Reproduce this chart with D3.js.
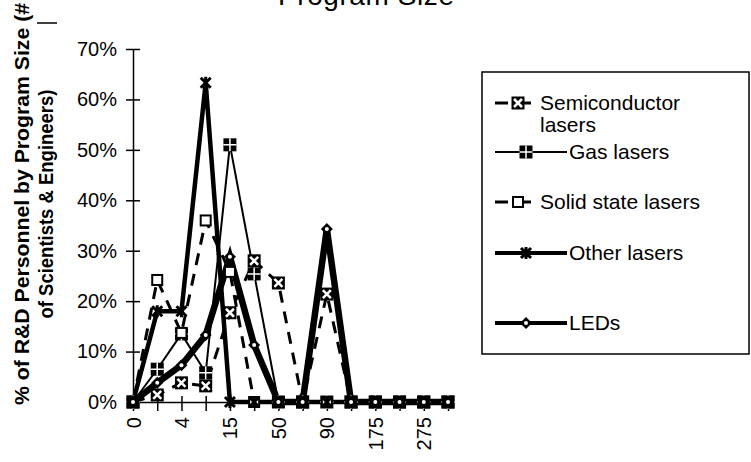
<!DOCTYPE html>
<html>
<head>
<meta charset="utf-8">
<script src="https://cdn.jsdelivr.net/npm/d3@7"></script>
<style>
  body { margin: 0; background: #fff; }
  svg text { font-family: "Liberation Sans", Arial, sans-serif; fill: #000; }
</style>
</head>
<body>
<div id="chart"></div>
<script>
(function() {
  "use strict";

  // Program size bins (only every other one is labelled on the axis)
  var categories = ['0', '2', '4', '10', '15', '25', '50', '75', '90', '125', '175', '225', '275', '300'];

  // Share of R&D personnel, in percent
  var semiconductor = [0, 1.4, 3.8, 3.2, 17.7, 28, 23.6, 0, 21.4, 0, 0, 0, 0, 0];
  var gas           = [0, 6.5, 13.5, 5.8, 51, 25.4, 0, 0, 0, 0, 0, 0, 0, 0];
  var solidState    = [0, 24.2, 13.7, 36, 25.8, 0, 0, 0, 0, 0, 0, 0, 0, 0];
  var other         = [0, 18, 18, 63.3, 0, 0, 0, 0, 0, 0, 0, 0, 0, 0];
  var leds          = [0, 3.8, 7.3, 13.3, 28.8, 11.3, 0, 0, 34.3, 0, 0, 0, 0, 0];

  var seriesNames = ['Semiconductor lasers', 'Gas lasers', 'Solid state lasers', 'Other lasers', 'LEDs'];
  var yTicks = [0, 10, 20, 30, 40, 50, 60, 70];

  var series = [
    { name: seriesNames[0], values: semiconductor, width: 3, dash: '12,9', marker: 'xsquare' },
    { name: seriesNames[1], values: gas, width: 2, dash: null, marker: 'plussquare' },
    { name: seriesNames[2], values: solidState, width: 3, dash: '12,9', marker: 'square' },
    { name: seriesNames[3], values: other, width: 4.5, dash: null, marker: 'star' },
    { name: seriesNames[4], values: leds, width: 6.5, dash: null, marker: 'diamond' }
  ];

  var svg = d3.select('#chart')
      .append('svg')
      .attr('width', 751)
      .attr('height', 462);

  var x = d3.scalePoint().domain(categories).range([133, 448]);
  var y = d3.scaleLinear().domain([0, 70]).range([402, 49]);

  // Title, mostly clipped off the top of the page
  svg.append('text')
      .attr('x', 366)
      .attr('y', 5)
      .attr('text-anchor', 'middle')
      .attr('font-size', 28)
      .attr('textLength', 176)
      .text('Program Size');

  // Axis title, two rotated lines
  var titleLines = ['% of R&D Personnel by Program Size (#', 'of Scientists & Engineers)'];
  svg.selectAll('.ytitle')
      .data(titleLines)
      .enter()
      .append('text')
      .attr('class', 'ytitle')
      .attr('transform', function(d, i) { return 'translate(' + (29 + i * 24) + ',204) rotate(-90)'; })
      .attr('text-anchor', 'middle')
      .attr('font-size', 20.5)
      .attr('font-weight', 'bold')
      .attr('textLength', function(d, i) { return i === 0 ? 402 : 229; })
      .attr('lengthAdjust', 'spacingAndGlyphs')
      .text(function(d) { return d; });

  svg.append('line')
      .attr('x1', 37).attr('x2', 57)
      .attr('y1', 23).attr('y2', 23)
      .attr('stroke', '#000')
      .attr('stroke-width', 1.5);

  // Y axis with cross ticks
  var yAxis = d3.axisLeft(y)
      .tickValues(yTicks)
      .tickSizeInner(7)
      .tickSizeOuter(0)
      .tickPadding(9)
      .tickFormat(function(d) { return d + '%'; });

  var gy = svg.append('g')
      .attr('transform', 'translate(' + x(categories[0]) + ',0)')
      .call(yAxis);
  gy.select('.domain').attr('stroke', '#000').attr('stroke-width', 1.5);
  gy.selectAll('.tick line').attr('x2', -7).attr('x1', 7).attr('stroke-width', 1.5);
  gy.selectAll('.tick text')
      .attr('font-size', 20)
      .attr('font-family', '"Liberation Sans", Arial, sans-serif');

  // X axis
  var xAxis = d3.axisBottom(x)
      .tickSizeInner(8)
      .tickSizeOuter(0)
      .tickFormat(function(d, i) { return i % 2 === 0 ? d : ''; });

  var gx = svg.append('g')
      .attr('transform', 'translate(0,' + y(0) + ')')
      .call(xAxis);
  gx.select('.domain').attr('stroke', '#000').attr('stroke-width', 1.5);
  gx.selectAll('.tick line').attr('y1', -6).attr('y2', 9).attr('stroke-width', 1.5);
  gx.selectAll('.tick text')
      .attr('font-size', 20)
      .attr('font-family', '"Liberation Sans", Arial, sans-serif')
      .attr('text-anchor', 'end')
      .attr('transform', 'rotate(-90)')
      .attr('x', -15)
      .attr('y', 0)
      .attr('dy', '0.35em');

  var line = d3.line()
      .x(function(d, i) { return x(categories[i]); })
      .y(function(d) { return y(d); });

  series.forEach(function(s) {
    svg.append('path')
        .datum(s.values)
        .attr('d', line)
        .attr('fill', 'none')
        .attr('stroke', '#000')
        .attr('stroke-width', s.width)
        .attr('stroke-dasharray', s.dash)
        .attr('stroke-linejoin', 'miter');
  });

  series.forEach(function(s) {
    s.values.forEach(function(v, i) {
      drawMarker(svg, s.marker, x(categories[i]), y(v));
    });
  });

  /**
   * Draws one of the Excel-style point markers centred on (cx, cy).
   */
  function drawMarker(parent, kind, cx, cy) {
    var g = parent.append('g').attr('transform', 'translate(' + cx + ',' + cy + ')');
    if (kind === 'xsquare') {
      g.append('rect').attr('x', -6.5).attr('y', -6.5).attr('width', 13).attr('height', 13)
          .attr('fill', '#000');
      g.append('path').attr('d', 'M-4,-4L4,4M4,-4L-4,4')
          .attr('stroke', '#fff').attr('stroke-width', 2.5);
    } else if (kind === 'plussquare') {
      g.append('rect').attr('x', -6.5).attr('y', -6.5).attr('width', 13).attr('height', 13)
          .attr('fill', '#000');
      g.append('path').attr('d', 'M-6.5,0L6.5,0M0,-6.5L0,6.5')
          .attr('stroke', '#fff').attr('stroke-width', 1.5);
    } else if (kind === 'square') {
      g.append('rect').attr('x', -5).attr('y', -5).attr('width', 10).attr('height', 10)
          .attr('fill', '#fff').attr('stroke', '#000').attr('stroke-width', 2);
    } else if (kind === 'star') {
      g.append('path').attr('d', 'M-5,-5L5,5M5,-5L-5,5M0,-6L0,6')
          .attr('stroke', '#000').attr('stroke-width', 3);
    } else if (kind === 'diamond') {
      g.append('path').attr('d', 'M0,-6L6,0L0,6L-6,0Z').attr('fill', '#000');
      g.append('circle').attr('r', 2).attr('fill', '#fff');
    }
  }

  // Legend
  var legend = svg.append('g');
  legend.append('rect')
      .attr('x', 482).attr('y', 72)
      .attr('width', 267).attr('height', 282)
      .attr('fill', '#fff')
      .attr('stroke', '#000')
      .attr('stroke-width', 1.5);

  var legendRows = [103, 152, 202, 253, 323];
  series.forEach(function(s, i) {
    var ly = legendRows[i];
    var dashed = s.dash !== null;
    var x2 = dashed ? 533 : 567;
    legend.append('line')
        .attr('x1', 495).attr('x2', x2)
        .attr('y1', ly).attr('y2', ly)
        .attr('stroke', '#000')
        .attr('stroke-width', Math.min(s.width, 4))
        .attr('stroke-dasharray', dashed ? '13,10' : null);
    drawMarker(legend, s.marker, dashed ? 518 : 526, ly);

    var words = s.name === 'Semiconductor lasers' ? ['Semiconductor', 'lasers'] : [s.name];
    words.forEach(function(w, j) {
      legend.append('text')
          .attr('x', dashed ? 540 : 569)
          .attr('y', ly + j * 22)
          .attr('dy', '0.35em')
          .attr('font-size', 21)
          .text(w);
    });
  });
})();
</script>
</body>
</html>
